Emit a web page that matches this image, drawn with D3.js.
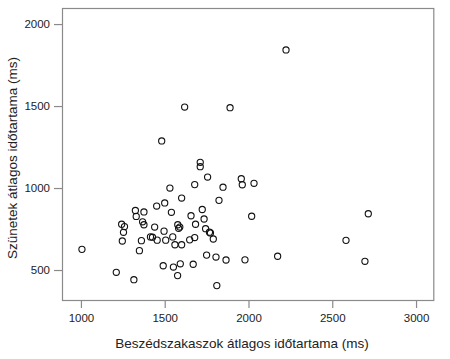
<!DOCTYPE html>
<html><head><meta charset="utf-8">
<script src="https://cdn.jsdelivr.net/npm/d3@7"></script>
<style>body{margin:0;background:#fff}svg{display:block}</style>
</head><body>
<script>
const speechDur = [2224,1619,1890,1482,1712,1712,1756,1957,1963,2033,1679,1531,1848,1601,1824,1500,1452,1325,1376,1540,1724,1330,1657,1735,2019,2715,1368,1376,1243,1260,1254,1440,1496,1578,1590,1583,1684,1744,1767,1773,1415,1427,1455,1506,1548,1649,1679,1790,1361,1247,1561,1601,1349,1006,1750,1806,1866,1979,2174,2582,2695,1491,1552,1593,1670,1577,1211,1316,1811];
const pauseDur  = [1842,1494,1490,1287,1157,1130,1067,1057,1020,1029,1021,1000,1005,939,925,909,890,863,854,852,869,827,831,811,828,843,794,776,779,765,730,762,737,776,762,754,779,752,731,726,702,700,682,682,702,684,698,689,679,677,654,654,618,626,591,579,561,562,584,681,553,526,518,538,535,466,486,441,405];
const xTicks = [1000,1500,2000,2500,3000];
const yTicks = [500,1000,1500,2000];
const xTitle = "Beszédszakaszok átlagos időtartama (ms)";
const yTitle = "Szünetek átlagos időtartama (ms)";

const W = 450, H = 359;
const m = {left:62, top:8, right:15.7, bottom:58};
const svg = d3.select("body").append("svg").attr("width",W).attr("height",H)
  .style("font-family","'Liberation Sans', Arial, sans-serif");
const x = d3.scaleLinear().domain([887,3109]).range([m.left, W-m.right]);
const y = d3.scaleLinear().domain([311,2098]).range([H-m.bottom, m.top]);
const frame = "#8a8a8a";

svg.append("rect").attr("x",m.left+0.5).attr("y",m.top+0.5)
  .attr("width",W-m.right-m.left-1).attr("height",H-m.bottom-m.top-1)
  .attr("fill","none").attr("stroke",frame).attr("stroke-width",1.2);

const xAxis = svg.append("g").attr("transform",`translate(0,${H-m.bottom})`)
  .call(d3.axisBottom(x).tickValues(xTicks).tickSize(7).tickPadding(6).tickFormat(d3.format("d")));
const yAxis = svg.append("g").attr("transform",`translate(${m.left},0)`)
  .call(d3.axisLeft(y).tickValues(yTicks).tickSize(8).tickPadding(4).tickFormat(d3.format("d")));
[xAxis,yAxis].forEach(a=>{
  a.select(".domain").remove();
  a.selectAll(".tick line").attr("stroke",frame).attr("stroke-width",1.2);
  a.selectAll(".tick text").attr("fill","#222").style("font-size","11.5px").style("font-family","'Liberation Sans', Arial, sans-serif");
});

svg.append("g").selectAll("circle").data(speechDur.map((d,i)=>[d,pauseDur[i]])).join("circle")
  .attr("cx",d=>x(d[0])).attr("cy",d=>y(d[1])).attr("r",3.1)
  .attr("fill","none").attr("stroke","#111").attr("stroke-width",1.1);

svg.append("text").attr("x",242).attr("y",348).attr("text-anchor","middle")
  .attr("fill","#222").style("font-size","13.5px").text(xTitle);
svg.append("text").attr("transform","translate(17,158) rotate(-90)").attr("text-anchor","middle")
  .attr("fill","#222").style("font-size","13.5px").text(yTitle);
</script>
</body></html>
